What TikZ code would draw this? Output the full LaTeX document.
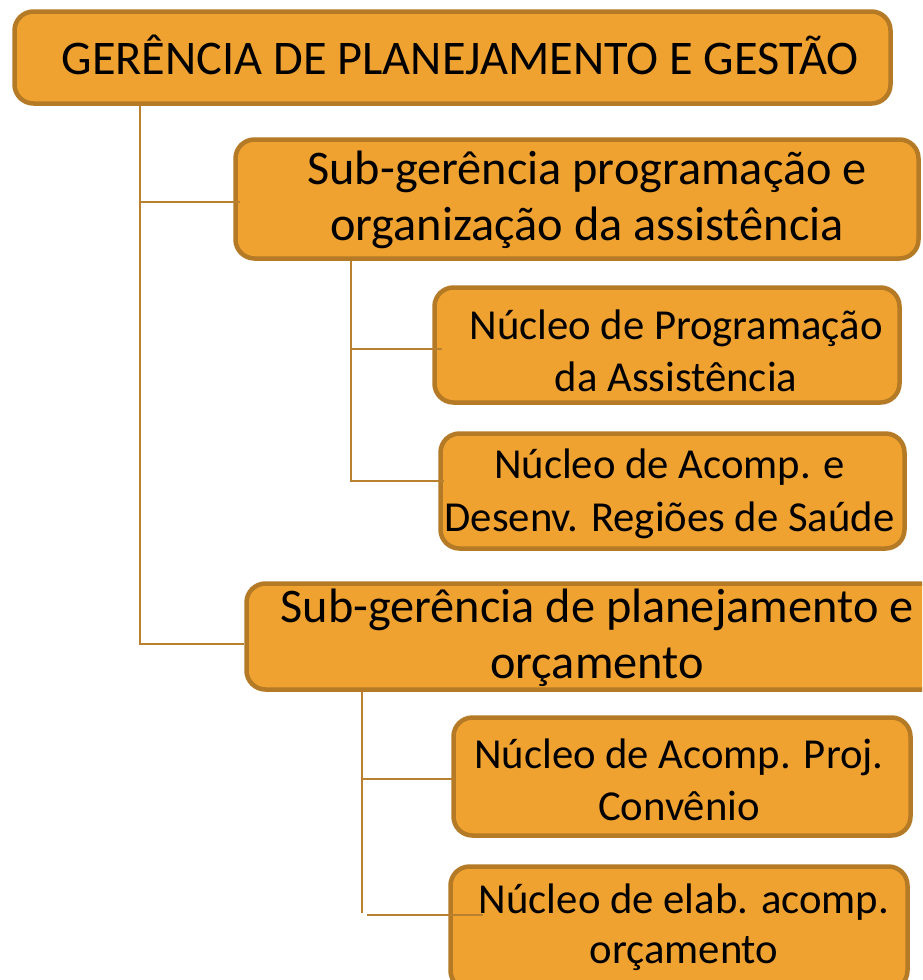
\documentclass[tikz,border=0pt]{standalone}
\usepackage{fontspec}
\setmainfont{Carlito}
\definecolor{boxfill}{HTML}{EFA230}
\definecolor{boxline}{HTML}{B47A26}
\definecolor{connline}{HTML}{B98030}
\begin{document}
\begin{tikzpicture}[x=1pt,y=-1pt,
  orgbox/.style={draw=boxline, fill=boxfill, line width=4.5pt, rounded corners=19pt,
    rectangle, inner sep=0pt, anchor=center},
  bigtxt/.style={anchor=base, inner sep=0pt, text=black, font=\fontsize{48.3}{57}\selectfont},
  smalltxt/.style={anchor=base, inner sep=0pt, text=black, font=\fontsize{42.7}{52}\selectfont},
  conn/.style={draw=connline, line width=2pt}]
\clip (0,0) rectangle (922,980);
\fill[white] (0,0) rectangle (922,980);
% boxes
\node[orgbox, minimum width=876pt, minimum height=92pt] (top) at (452.5,57.5) {};
\node[orgbox, minimum width=683pt, minimum height=119pt] (s1) at (577,199) {};
\node[orgbox, minimum width=465pt, minimum height=115pt] (n1) at (667,345) {};
\node[orgbox, minimum width=464pt, minimum height=115pt] (n2) at (672.5,491) {};
\node[orgbox, minimum width=743pt, minimum height=106pt] (s2) at (618,636.5) {};
\node[orgbox, minimum width=457pt, minimum height=118pt] (n3) at (682,776.5) {};
\node[orgbox, minimum width=457pt, minimum height=123pt] (n4) at (679,928) {};
% texts
\node[bigtxt] (t0) at (460,74) {GERÊNCIA DE PLANEJAMENTO E GESTÃO};
\node[bigtxt] (t1a) at (587,184) {Sub-gerência programação e};
\node[bigtxt] (t1b) at (587,240) {organização da assistência};
\node[smalltxt] (t2a) at (676,339) {Núcleo de Programação};
\node[smalltxt] (t2b) at (676,391) {da Assistência};
\node[smalltxt] (t3a) at (669.5,478) {Núcleo de Acomp. e};
\node[smalltxt] (t3b) at (669.5,531) {Desenv. Regiões de Saúde};
\node[bigtxt] (t4a) at (597,622) {Sub-gerência de planejamento e};
\node[bigtxt] (t4b) at (597,678) {orçamento};
\node[smalltxt] (t5a) at (679,768) {Núcleo de Acomp. Proj.};
\node[smalltxt] (t5b) at (679,820) {Convênio};
\node[smalltxt] (t6a) at (684,913) {Núcleo de elab. acomp.};
\node[smalltxt] (t6b) at (684,963) {orçamento};
% connector coordinates
\coordinate (k0) at (139.5,0);
\coordinate (e1) at (240,202);
\coordinate (e2) at (244,644);
\coordinate (k1) at (350.5,0);
\coordinate (e3) at (442,349);
\coordinate (e4) at (444,480.5);
\coordinate (k2) at (361.5,0);
\coordinate (e5) at (452,779);
\coordinate (b6) at (367,914.5);
\coordinate (e6) at (483,914.5);
\coordinate (k2end) at (361.5,913);
% connectors
\draw[conn] (k0 |- top.south) -- (k0 |- e2) -- (e2);
\draw[conn] (k0 |- e1) -- (e1);
\draw[conn] (k1 |- s1.south) -- (k1 |- e4) -- (e4);
\draw[conn] (k1 |- e3) -- (e3);
\draw[conn] (k2 |- s2.south) -- (k2end);
\draw[conn] (k2 |- e5) -- (e5);
\draw[conn] (b6) -- (e6);
\end{tikzpicture}
\end{document}
